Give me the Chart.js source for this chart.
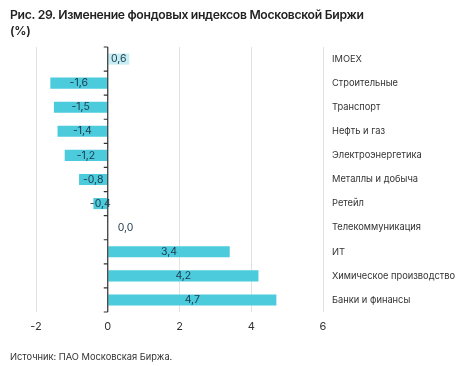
<!DOCTYPE html>
<html>
<head>
<meta charset="utf-8">
<script src="https://cdn.jsdelivr.net/npm/chart.js@4.4.0/dist/chart.umd.min.js"></script>
<style>
    body { margin: 0; background: #fff; font-family: Inter, "Open Sans", sans-serif; }
    #wrap { position: relative; width: 463px; height: 366px; }
    #title { position: absolute; left: 10px; top: 7px; font-size: 12.2px; font-weight: 600; color: #222; line-height: 16px; letter-spacing: -0.3px; }
    #source { position: absolute; left: 10px; top: 351px; font-size: 9.3px; color: #333; }
    canvas { position: absolute; left: 0; top: 0; }
</style>
</head>
<body>
<div id="wrap">
    <canvas id="chart" width="463" height="366"></canvas>
    <div id="title">Рис. 29. Изменение фондовых индексов Московской Биржи<br>(%)</div>
    <div id="source">Источник: ПАО Московская Биржа.</div>
</div>
<script>
const categories = ['IMOEX', 'Строительные', 'Транспорт', 'Нефть и газ', 'Электроэнергетика',
    'Металлы и добыча', 'Ретейл', 'Телекоммуникация', 'ИТ', 'Химическое производство', 'Банки и финансы'];
const changes = [0.6, -1.6, -1.5, -1.4, -1.2, -0.8, -0.4, 0.0, 3.4, 4.2, 4.7];
const xTicks = [-2, 0, 2, 4, 6];

const barColors = categories.map((c, i) => i === 0 ? '#c6edf3' : '#4bcbdc');

// zero line with small ticks between categories
const zeroLine = {
    id: 'zeroLine',
    afterDatasetsDraw(chart) {
        const ctx = chart.ctx;
        const x = chart.scales.x.getPixelForValue(0);
        const area = chart.chartArea;
        const step = (area.bottom - area.top) / categories.length;
        ctx.save();
        ctx.strokeStyle = '#333';
        ctx.lineWidth = 1.2;
        ctx.beginPath();
        ctx.moveTo(x, area.top);
        ctx.lineTo(x, area.bottom);
        for (let i = 0; i <= categories.length; i++) {
            let y = area.top + i * step;
            ctx.moveTo(x - 4, y);
            ctx.lineTo(x, y);
        }
        ctx.stroke();
        ctx.restore();
    }
};

// value labels in the middle of the bars
const valueLabels = {
    id: 'valueLabels',
    afterDatasetsDraw(chart) {
        const ctx = chart.ctx;
        const meta = chart.getDatasetMeta(0);
        ctx.save();
        ctx.font = '10.5px Inter, "Open Sans", sans-serif';
        ctx.fillStyle = '#1d3a4c';
        ctx.textBaseline = 'middle';
        meta.data.forEach((bar, i) => {
            const text = changes[i].toFixed(1).replace('.', ',');
            if (changes[i] === 0) {
                ctx.textAlign = 'left';
                ctx.fillText(text, bar.base + 10, bar.y);
            } else {
                ctx.textAlign = 'center';
                ctx.fillText(text, (bar.x + bar.base) / 2, bar.y);
            }
        });
        ctx.restore();
    }
};

new Chart(document.getElementById('chart'), {
    type: 'bar',
    data: {
        labels: categories,
        datasets: [{
            data: changes,
            backgroundColor: barColors,
            categoryPercentage: 1,
            barPercentage: 0.46
        }]
    },
    options: {
        indexAxis: 'y',
        responsive: false,
        animation: false,
        layout: { padding: { left: 36, top: 47, bottom: 30, right: 0 } },
        plugins: { legend: { display: false }, tooltip: { enabled: false } },
        scales: {
            x: {
                min: -2,
                max: 6,
                afterBuildTicks: s => { s.ticks = xTicks.map(v => ({ value: v })); },
                afterFit: s => { s.height = 24; },
                grid: { color: '#e2e2e2', drawTicks: false, lineWidth: 1 },
                border: { display: false },
                ticks: { color: '#333', padding: 8, font: { size: 11, family: 'Inter' } }
            },
            y: {
                position: 'right',
                afterFit: s => { s.width = 140; },
                grid: { display: false, drawTicks: false },
                border: { display: false },
                ticks: { color: '#333', padding: 9, font: { size: 9.3, family: 'Inter' } }
            }
        }
    },
    plugins: [zeroLine, valueLabels]
});
</script>
</body>
</html>
